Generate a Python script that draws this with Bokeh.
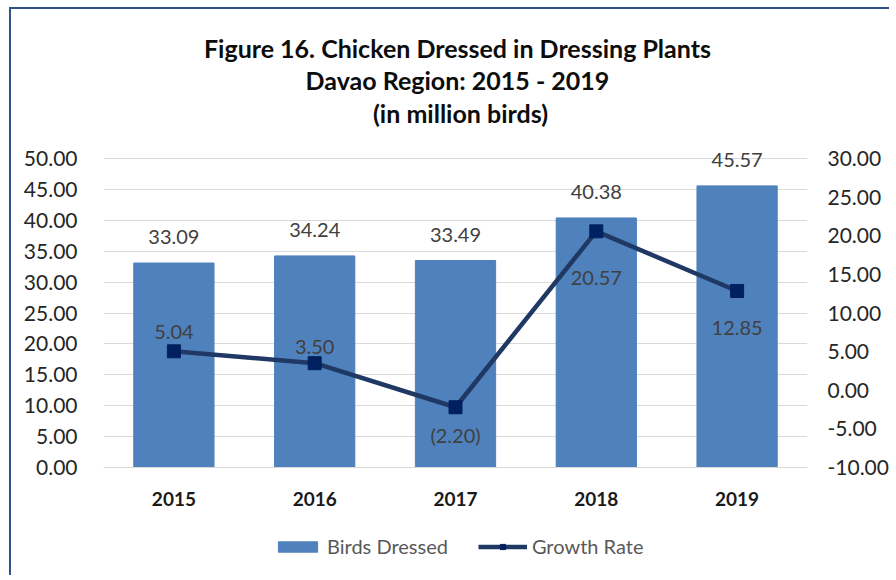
from bokeh.plotting import figure
from bokeh.models import (FactorRange, Range1d, LinearAxis, ColumnDataSource, Label,
                          Legend, LegendItem, FixedTicker, NumeralTickFormatter)
from bokeh.embed import file_html
from bokeh.resources import INLINE
from bokeh.core.properties import value

# ---- data ----
years = ["2015", "2016", "2017", "2018", "2019"]
birds_dressed = [33.09, 34.24, 33.49, 40.38, 45.57]
growth_rate = [5.04, 3.50, -2.20, 20.57, 12.85]
bird_labels = ["33.09", "34.24", "33.49", "40.38", "45.57"]
rate_labels = ["5.04", "3.50", "(2.20)", "20.57", "12.85"]
left_ticks = [0, 5, 10, 15, 20, 25, 30, 35, 40, 45, 50]
right_ticks = [-10, -5, 0, 5, 10, 15, 20, 25, 30]
title_lines = ["Figure 16.  Chicken Dressed in Dressing Plants",
               "Davao Region: 2015  - 2019",
               "(in million birds)"]

# ---- layout / styling (pixels, not data) ----
rate_label_dy = [-19, -16, 28, 47, 37]   # label offsets from the markers
title_rows_px = [47, 79, 112]            # title line centres, in page pixels
ZERO_PX = 467                            # page row of the 0.00 gridline
PX_PER_UNIT = 309 / 50.0                 # left-scale pixels per unit
FRAME_TOP_PX, FRAME_BOTTOM_PX = 11, 575

FONT = "Lato"
BAR = "#4F81BD"
LINE = "#1F3864"
MARK = "#002060"
GRID = "#D9D9D9"
TXT = "#404040"

def px_to_left(y_px):
    return (ZERO_PX - y_px) / PX_PER_UNIT

def to_rate(v):
    return -10 + v * 40.0 / 50.0

src = ColumnDataSource(dict(year=years, birds=birds_dressed, rate=growth_rate,
                            blab=bird_labels, rlab=rate_labels, dy=rate_label_dy))

LEFT_LO, LEFT_HI = px_to_left(FRAME_BOTTOM_PX), px_to_left(FRAME_TOP_PX)

p = figure(width=880, height=568, x_range=FactorRange(*years),
           y_range=Range1d(LEFT_LO, LEFT_HI), title=None,
           output_backend="svg", toolbar_location=None,
           min_border_left=92, min_border_right=82, min_border_top=2, min_border_bottom=2)
p.styles = {"border-top": "2px solid #34528A", "border-left": "2px solid #34528A",
            "margin-left": "9px", "margin-top": "7px"}
p.outline_line_color = None
p.background_fill_color = "white"
p.border_fill_color = "white"
p.extra_y_ranges = {"rate": Range1d(to_rate(LEFT_LO), to_rate(LEFT_HI))}

# axes
p.yaxis.ticker = FixedTicker(ticks=left_ticks)
p.yaxis.formatter = NumeralTickFormatter(format="0.00")
right = LinearAxis(y_range_name="rate", ticker=FixedTicker(ticks=right_ticks),
                   formatter=NumeralTickFormatter(format="0.00"))
p.add_layout(right, "right")
for ax in (p.yaxis[0], right):
    ax.axis_line_color = None
    ax.major_tick_line_color = None
    ax.minor_tick_line_color = None
    ax.major_label_text_font = FONT
    ax.major_label_text_font_size = "21px"
    ax.major_label_text_color = "#262626"
p.yaxis[0].major_label_standoff = 20
right.major_label_standoff = 14

p.xaxis.fixed_location = 0
p.xaxis.axis_line_color = GRID
p.xaxis.major_tick_line_color = None
p.xaxis.minor_tick_line_color = None
p.xaxis.major_label_text_font = FONT
p.xaxis.major_label_text_font_size = "19px"
p.xaxis.major_label_text_font_style = "bold"
p.xaxis.major_label_text_color = "#1a1a1a"
p.xaxis.major_label_standoff = 18

p.xgrid.grid_line_color = None
p.ygrid.grid_line_color = GRID
p.ygrid.grid_line_width = 1

# glyphs
bars = p.vbar(x="year", top="birds", width=0.57, source=src, fill_color=BAR, line_color=BAR)
ln = p.line(x="year", y="rate", source=src, y_range_name="rate", line_width=4.5, line_color=LINE)
mk = p.scatter(x="year", y="rate", source=src, y_range_name="rate", marker="square",
               size=13, fill_color=MARK, line_color=MARK)

p.text(x="year", y="birds", text="blab", source=src, text_align="center",
       text_baseline="middle", y_offset=-26, text_font=value(FONT),
       text_font_size="20px", text_color=TXT)
p.text(x="year", y="rate", text="rlab", source=src, y_range_name="rate",
       text_align="center", text_baseline="middle", y_offset="dy",
       text_font=value(FONT), text_font_size="20px", text_color=TXT)

# title lines, centred over the plot
n_cat = len(years)
for t, row in zip(title_lines, title_rows_px):
    p.add_layout(Label(x=n_cat / 2.0, y=px_to_left(row), x_offset=5, text=t,
                       text_align="center", text_baseline="middle",
                       text_font=FONT, text_font_style="bold",
                       text_font_size="25px", text_color="#0d0d0d"))

legend = Legend(items=[LegendItem(label="Birds Dressed", renderers=[bars]),
                       LegendItem(label="Growth Rate", renderers=[ln, mk])],
                orientation="horizontal", location=(170, 17),
                glyph_width=49, glyph_height=13, label_standoff=5, spacing=30,
                padding=0, margin=0, border_line_color=None,
                background_fill_alpha=0,
                label_text_font=FONT, label_text_font_size="20px",
                label_text_color="#595959")
p.add_layout(legend)

open("out.html", "w").write(file_html(p, INLINE))
